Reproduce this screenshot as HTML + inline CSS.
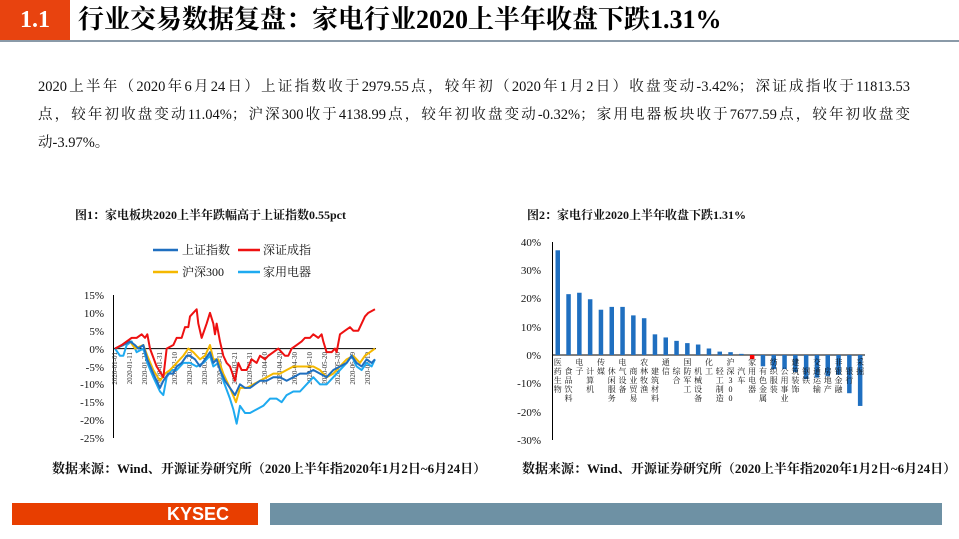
<!DOCTYPE html>
<html><head><meta charset="utf-8"><style>
body{margin:0;width:959px;height:539px;background:#fff;position:relative;overflow:hidden;font-family:"Liberation Serif","Noto Serif CJK SC",serif;}
.a{position:absolute;white-space:nowrap}
.p{position:absolute;left:38px;width:872px;font-size:14.5px;color:#111;text-align:justify;text-align-last:justify;white-space:nowrap}
.t{font-weight:bold;font-size:12px;color:#111}
.s{font-weight:bold;font-size:13px;color:#111}
</style></head><body>
<div class="a" style="left:0;top:0;width:70px;height:40px;background:#e8430f;color:#fff;font-weight:bold;font-size:24px;line-height:40px;text-align:center">1.1</div>
<div class="a" style="left:78px;top:3px;font-size:26px;font-weight:bold;line-height:34px;color:#000">行业交易数据复盘：家电行业2020上半年收盘下跌1.31%</div>
<div class="a" style="left:0;top:40px;width:959px;height:2px;background:#8a9aa8"></div>
<div class="p" style="top:75px">2020上半年（2020年6月24日）上证指数收于2979.55点，较年初（2020年1月2日）收盘变动-3.42%；深证成指收于11813.53</div>
<div class="p" style="top:103px">点，较年初收盘变动11.04%；沪深300收于4138.99点，较年初收盘变动-0.32%；家用电器板块收于7677.59点，较年初收盘变</div>
<div class="p" style="top:131px;text-align-last:left">动-3.97%。</div>
<div class="a t" style="left:75px;top:206px">图1：家电板块2020上半年跌幅高于上证指数0.55pct</div>
<div class="a t" style="left:527px;top:206px">图2：家电行业2020上半年收盘下跌1.31%</div>
<div class="a s" style="left:52px;top:458px">数据来源：Wind、开源证券研究所（2020上半年指2020年1月2日~6月24日）</div>
<div class="a s" style="left:522px;top:458px">数据来源：Wind、开源证券研究所（2020上半年指2020年1月2日~6月24日）</div>
<div class="a" style="left:12px;top:503px;width:246px;height:22px;background:#e83e00;color:#fff;font-family:'Liberation Sans',sans-serif;font-weight:bold;font-size:18px;line-height:22px;text-align:right"><span style="margin-right:29px">KYSEC</span></div>
<div class="a" style="left:270px;top:503px;width:672px;height:22px;background:#6e91a4"></div>

<svg class="a" style="left:0;top:0" width="959" height="539" font-family="Liberation Serif,Noto Serif CJK SC,serif">
<g font-size="12" fill="#111">
<line x1="153" y1="250" x2="178" y2="250" stroke="#1f6fc0" stroke-width="2.5"/><text x="182" y="254">上证指数</text>
<line x1="238" y1="250" x2="260" y2="250" stroke="#ee1111" stroke-width="2.5"/><text x="263" y="254">深证成指</text>
<line x1="153" y1="272" x2="178" y2="272" stroke="#f5b800" stroke-width="2.5"/><text x="182" y="276">沪深300</text>
<line x1="238" y1="272" x2="260" y2="272" stroke="#1eaaf0" stroke-width="2.5"/><text x="263" y="276">家用电器</text>
</g>
<g font-size="11" fill="#111" text-anchor="end">
<text x="104" y="299">15%</text><text x="104" y="317">10%</text><text x="104" y="335">5%</text><text x="104" y="353">0%</text>
<text x="104" y="371">-5%</text><text x="104" y="388">-10%</text><text x="104" y="406">-15%</text><text x="104" y="424">-20%</text><text x="104" y="442">-25%</text>
</g>
<line x1="113.5" y1="295" x2="113.5" y2="438" stroke="#000" stroke-width="1"/>
<line x1="113" y1="348.6" x2="376" y2="348.6" stroke="#000" stroke-width="1"/>
<g font-size="7" fill="#333">
<text transform="translate(117,352) rotate(-90)" text-anchor="end">2020-01-01</text>
<text transform="translate(132,352) rotate(-90)" text-anchor="end">2020-01-11</text>
<text transform="translate(147,352) rotate(-90)" text-anchor="end">2020-01-21</text>
<text transform="translate(162,352) rotate(-90)" text-anchor="end">2020-01-31</text>
<text transform="translate(177,352) rotate(-90)" text-anchor="end">2020-02-10</text>
<text transform="translate(192,352) rotate(-90)" text-anchor="end">2020-02-20</text>
<text transform="translate(207,352) rotate(-90)" text-anchor="end">2020-03-01</text>
<text transform="translate(222,352) rotate(-90)" text-anchor="end">2020-03-11</text>
<text transform="translate(237,352) rotate(-90)" text-anchor="end">2020-03-21</text>
<text transform="translate(252,352) rotate(-90)" text-anchor="end">2020-03-31</text>
<text transform="translate(267,352) rotate(-90)" text-anchor="end">2020-04-10</text>
<text transform="translate(282,352) rotate(-90)" text-anchor="end">2020-04-20</text>
<text transform="translate(297,352) rotate(-90)" text-anchor="end">2020-04-30</text>
<text transform="translate(312,352) rotate(-90)" text-anchor="end">2020-05-10</text>
<text transform="translate(327,352) rotate(-90)" text-anchor="end">2020-05-20</text>
<text transform="translate(340,352) rotate(-90)" text-anchor="end">2020-05-30</text>
<text transform="translate(355,352) rotate(-90)" text-anchor="end">2020-06-09</text>
<text transform="translate(370,352) rotate(-90)" text-anchor="end">2020-06-19</text>
</g>
<g transform="translate(60,348.6) scale(0.3333,-3.575)" fill="none" stroke-width="2" stroke-linejoin="round">
<polyline vector-effect="non-scaling-stroke" stroke="#1eaaf0" points="165,0 180,-2 190,-2 200,1 215,2 230,-1 250,0 262,-4 280,-8 300,-12 310,-13 320,-8 335,-6 350,-6 370,-4 390,-4 410,-5 430,-4 450,-2 460,-5 475,-4 490,-9 510,-14 520,-17 530,-21 540,-16 555,-18 570,-18 590,-17 610,-16 630,-14 650,-14 665,-15 680,-13 700,-12 720,-12 740,-10 760,-8 780,-10 800,-10 820,-8 840,-6 860,-4 875,-2 890,-5 905,-6 920,-4 935,-5 945,-3"/>
<polyline vector-effect="non-scaling-stroke" stroke="#f5b800" points="165,0 190,1 210,2 225,0 250,1 262,-2 280,-6 300,-9 315,-7 330,-6 350,-4 370,-2 385,0 400,-1 420,-3 435,-2 450,1 460,-3 475,-3 490,-7 510,-11 528,-15 540,-11 560,-11 580,-10 600,-9 620,-8 640,-7 660,-7 680,-6 700,-5 720,-5 740,-5 760,-5 780,-6 800,-8 820,-7 840,-5 860,-3 880,-2 900,-4 915,-2 930,-1 945,0"/>
<polyline vector-effect="non-scaling-stroke" stroke="#1f6fc0" points="165,0 190,1 210,2 225,1 235,0 250,1 262,-3 280,-7 300,-11 310,-9 325,-7 340,-7 350,-5 365,-4 380,-2 390,-2 405,-3 420,-5 435,-3 450,-1 460,-4 470,-3 480,-6 495,-9 510,-11 525,-13 540,-10 555,-11 570,-11 585,-10 600,-9 620,-9 640,-8 660,-8 680,-9 700,-8 720,-7 740,-7 760,-6 780,-7 800,-8 820,-6 840,-5 860,-4 875,-2 890,-4 905,-5 920,-3 935,-4 945,-3"/>
<polyline vector-effect="non-scaling-stroke" stroke="#ee1111" points="165,0 185,1 200,2 215,3 230,3 245,4 255,3 262,4 270,0 290,-5 310,-8 320,0 340,1 350,3 365,3 375,6 385,6 390,9 400,10 410,11 415,7 425,3 440,7 450,10 460,7 465,4 470,7 480,2 490,-2 500,-4 510,-5 525,-9 535,-4 545,-6 560,-6 575,-3 590,-4 600,-2 615,-3 625,-2 640,-1 655,0 665,-1 675,-2 685,-2 695,0 710,1 725,2 735,3 750,3 760,4 775,3 785,4 790,2 800,-1 815,-1 825,0 830,-1 840,4 855,5 870,6 880,5 895,5 905,7 915,9 925,10 945,11"/>
</g>
<g font-size="11" fill="#111" text-anchor="end">
<text x="541" y="246">40%</text><text x="541" y="274">30%</text><text x="541" y="302">20%</text><text x="541" y="331">10%</text>
<text x="541" y="359">0%</text><text x="541" y="387">-10%</text><text x="541" y="416">-20%</text><text x="541" y="444">-30%</text>
</g>
<line x1="552.5" y1="242" x2="552.5" y2="440" stroke="#000"/>
<line x1="552" y1="355" x2="865" y2="355" stroke="#000"/>
<g id="bars"></g>
<g id="lbl" font-size="8" fill="#111" text-anchor="middle"></g>
</svg>
<script>
var v=[37,21.5,22,19.7,16,17,17,14,13,7.3,6.2,5,4.2,3.7,2.3,1.2,1,0.4,-1.5,-4,-5,-5,-6,-8.5,-8,-7.5,-7,-13.5,-18];
var n=["医药生物","食品饮料","电子","计算机","传媒","休闲服务","电气设备","商业贸易","农林牧渔","建筑材料","通信","综合","国防军工","机械设备","化工","轻工制造","沪深300","汽车","家用电器","有色金属","纺织服装","公用事业","建筑装饰","钢铁","交通运输","房地产","非银金融","银行","采掘"];
var s="",t="";
for(var i=0;i<v.length;i++){var x=555.5+i*10.8,h=v[i]*2.83,y=h>0?355-h:355;
s+='<rect x="'+x+'" y="'+y+'" width="4.5" height="'+Math.abs(h)+'" fill="'+(i==18?'#ff0000':'#1f6fc0')+'"/>';
var lx=x+2.25,ly=358+(i%2?9:0);
var str=n[i]=="沪深300"?["沪","深","3","0","0"]:n[i].split("");
for(var j=0;j<str.length;j++){t+='<text x="'+lx+'" y="'+(ly+7+j*9)+'">'+str[j]+'</text>';}}
document.getElementById('bars').innerHTML=s;document.getElementById('lbl').innerHTML=t;
</script>
</body></html>
